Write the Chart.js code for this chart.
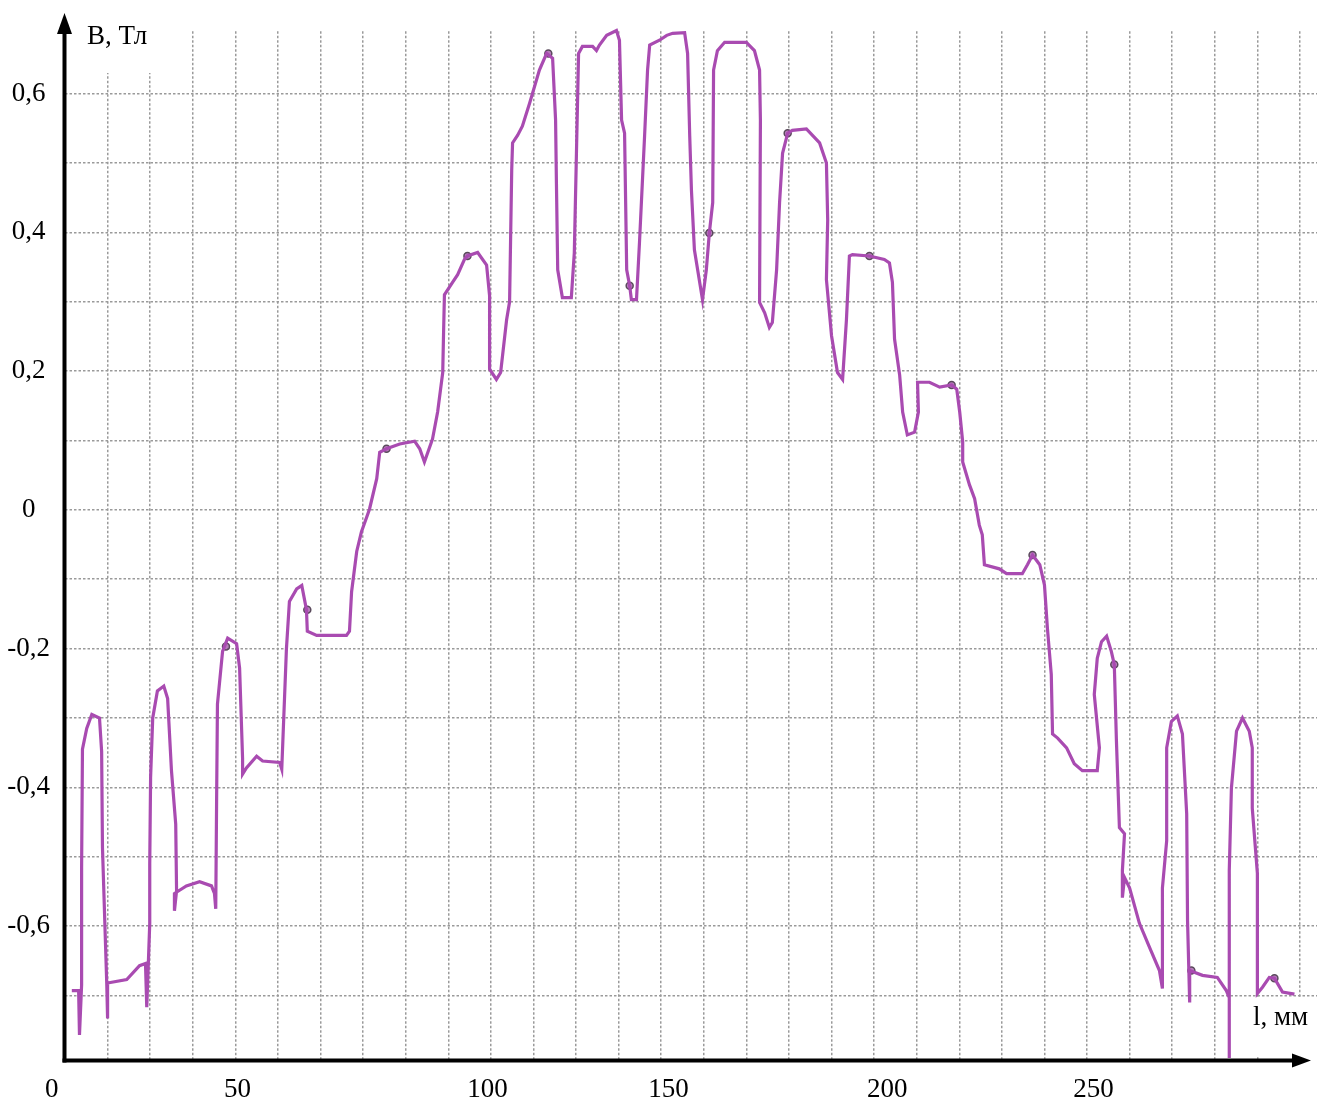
<!DOCTYPE html>
<html>
<head>
<meta charset="utf-8">
<script src="https://cdn.jsdelivr.net/npm/chart.js@4.4.1/dist/chart.umd.min.js"></script>
<style>
    html, body { margin: 0; padding: 0; background: #fff; }
</style>
</head>
<body>
<canvas id="myChart" width="1317" height="1106"></canvas>
<script>
// l, mm
const lengthMm = [
    1.6, 3.2, 3.4, 3.9, 3.9, 4.1, 5.1, 6.3, 8.1, 8.6, 8.8, 9.8, 10.0, 10.0,
    14.5, 17.5, 18.9, 19.2, 19.9, 19.9, 20.1, 20.6, 21.7, 23.2, 24.1, 25.0, 26.0, 26.2,
    25.7, 25.7, 28.5, 31.6, 34.4, 35.1, 35.4, 35.6, 35.8, 37.0, 38.2, 40.3, 41.0, 41.7,
    41.7, 42.6, 45.0, 46.4, 50.4, 50.9, 52.0, 52.7, 54.4, 55.6, 56.7, 56.9, 59.1, 66.1,
    66.8, 67.3, 68.5, 69.6, 71.5, 73.2, 73.9, 75.5, 78.6, 82.1, 83.3, 84.4, 86.3, 87.5,
    88.7, 88.9, 89.1, 91.0, 92.2, 93.8, 94.5, 96.9, 99.0, 99.7, 99.7, 101.3, 102.3, 103.7,
    104.4, 104.9, 105.1, 106.3, 107.4, 109.1, 111.4, 113.1, 114.5, 115.2, 115.4, 115.7, 116.8, 118.9,
    119.6, 120.1, 120.6, 121.5, 123.9, 124.8, 125.5, 127.2, 129.5, 130.2, 130.7, 131.4, 131.9, 132.6,
    133.0, 134.2, 134.9, 136.1, 136.8, 137.3, 139.6, 141.3, 142.7, 145.5, 146.2, 146.7, 147.1, 147.8,
    149.7, 150.6, 151.3, 152.1, 152.3, 153.2, 154.9, 160.0, 161.9, 163.1, 163.3, 163.1, 164.3, 165.4,
    166.1, 167.1, 167.8, 168.5, 169.7, 170.8, 174.1, 177.2, 178.8, 179.1, 178.8, 180.0, 181.4, 182.6,
    183.5, 184.2, 184.9, 188.9, 192.4, 193.6, 194.3, 194.8, 196.0, 196.7, 197.8, 199.5, 200.4, 200.2,
    203.0, 205.4, 208.2, 209.4, 210.1, 210.8, 210.8, 212.4, 213.6, 214.7, 215.4, 215.9, 219.4, 221.1,
    224.8, 226.0, 227.2, 228.9, 230.0, 230.7, 231.6, 231.9, 233.1, 235.2, 237.0, 238.9, 242.4, 242.9,
    241.7, 242.4, 243.4, 244.6, 245.7, 246.4, 246.9, 247.6, 248.8, 248.3, 248.3, 248.8, 250.0, 252.3,
    254.7, 257.0, 257.7, 257.7, 258.7, 258.7, 259.8, 261.2, 262.4, 263.4, 263.6, 264.1, 264.1, 267.1,
    270.6, 272.7, 273.4, 273.4, 273.4, 273.9, 275.1, 276.5, 278.1, 278.8, 278.8, 280.0, 280.0, 281.2,
    282.8, 284.0, 285.9, 288.7
];
// B, T
const inductionT = [
    -0.693, -0.693, -0.757, -0.685, -0.516, -0.345, -0.315, -0.295, -0.300, -0.348, -0.487, -0.682, -0.733, -0.682,
    -0.677, -0.657, -0.654, -0.717, -0.596, -0.510, -0.386, -0.300, -0.261, -0.254, -0.272, -0.376, -0.453, -0.549,
    -0.578, -0.553, -0.542, -0.536, -0.542, -0.553, -0.575, -0.420, -0.280, -0.204, -0.185, -0.193, -0.228, -0.358,
    -0.381, -0.372, -0.355, -0.362, -0.364, -0.374, -0.200, -0.132, -0.114, -0.109, -0.144, -0.175, -0.181, -0.181,
    -0.175, -0.118, -0.060, -0.032, 0.001, 0.045, 0.083, 0.088, 0.095, 0.099, 0.088, 0.069, 0.102, 0.141,
    0.198, 0.256, 0.310, 0.328, 0.339, 0.361, 0.366, 0.371, 0.353, 0.309, 0.203, 0.188, 0.198, 0.274,
    0.300, 0.490, 0.529, 0.540, 0.553, 0.586, 0.634, 0.658, 0.651, 0.562, 0.471, 0.346, 0.306, 0.306,
    0.371, 0.514, 0.658, 0.668, 0.668, 0.662, 0.670, 0.684, 0.691, 0.677, 0.562, 0.543, 0.346, 0.323,
    0.303, 0.303, 0.385, 0.539, 0.634, 0.670, 0.677, 0.684, 0.687, 0.688, 0.658, 0.539, 0.461, 0.375,
    0.303, 0.346, 0.399, 0.443, 0.634, 0.662, 0.674, 0.674, 0.662, 0.634, 0.562, 0.299, 0.284, 0.263,
    0.270, 0.346, 0.443, 0.514, 0.543, 0.547, 0.549, 0.529, 0.500, 0.418, 0.332, 0.251, 0.198, 0.188,
    0.274, 0.366, 0.368, 0.366, 0.361, 0.356, 0.328, 0.246, 0.194, 0.141, 0.108, 0.112, 0.141, 0.184,
    0.184, 0.177, 0.180, 0.174, 0.141, 0.098, 0.069, 0.036, 0.016, -0.022, -0.036, -0.079, -0.085, -0.092,
    -0.092, -0.079, -0.065, -0.079, -0.108, -0.171, -0.237, -0.323, -0.329, -0.343, -0.366, -0.376, -0.376, -0.343,
    -0.266, -0.214, -0.190, -0.182, -0.204, -0.223, -0.333, -0.458, -0.467, -0.520, -0.559, -0.530, -0.545, -0.596,
    -0.631, -0.664, -0.690, -0.545, -0.477, -0.343, -0.305, -0.297, -0.323, -0.438, -0.592, -0.710, -0.664, -0.671,
    -0.674, -0.693, -0.703, -0.790, -0.520, -0.401, -0.319, -0.300, -0.319, -0.343, -0.430, -0.524, -0.697, -0.688,
    -0.674, -0.675, -0.695, -0.698
];
// small round markers on the curve
const markerMm = [37.8, 56.9, 75.5, 94.5, 113.5, 132.6, 151.3, 169.7, 188.9, 208.2, 227.2, 246.4, 264.5, 284.0];
const markerT = [-0.197, -0.144, 0.088, 0.366, 0.658, 0.323, 0.399, 0.543, 0.366, 0.180, -0.065, -0.223, -0.664, -0.675];

// tick labels of the x axis and where they stand (mm)
const xLabelText = ['0', '50', '100', '150', '200', '250'];
const xLabelPos = [-3.1, 40.5, 99.2, 141.7, 193.1, 241.5];
// labelled y values
const yLabelValues = [0.6, 0.4, 0.2, 0, -0.2, -0.4, -0.6];

const serif = "'Liberation Serif', 'Times New Roman', serif";
const grid_color = '#9a9a9a';

// black axes with arrow heads and the axis names
const axesArrows = {
    id: 'axesArrows',
    beforeDatasetsDraw(chart) {
        // white boxes under the axis names hide the grid there
        const ctx = chart.ctx;
        ctx.save();
        ctx.fillStyle = '#fff';
        ctx.fillRect(72, 0, 100, 73);
        ctx.fillRect(1245, 998, 72, 58);
        ctx.restore();
    },
    afterDraw(chart) {
        const {ctx, chartArea} = chart;
        const x0 = chartArea.left - 0.5;
        const y0 = chartArea.bottom + 0.5;
        ctx.save();
        ctx.strokeStyle = '#000';
        ctx.fillStyle = '#000';
        ctx.lineWidth = 4;
        ctx.beginPath();
        ctx.moveTo(x0, y0 + 2);
        ctx.lineTo(x0, 30);
        ctx.stroke();
        ctx.beginPath();
        ctx.moveTo(x0 - 2, y0);
        ctx.lineTo(1296, y0);
        ctx.stroke();
        // arrow heads
        ctx.beginPath();
        ctx.moveTo(x0, 13);
        ctx.lineTo(x0 - 7.5, 34);
        ctx.lineTo(x0 + 7.5, 34);
        ctx.closePath();
        ctx.fill();
        ctx.beginPath();
        ctx.moveTo(1311, y0);
        ctx.lineTo(1292, y0 - 7);
        ctx.lineTo(1292, y0 + 7);
        ctx.closePath();
        ctx.fill();

        ctx.font = '27px ' + serif;
        ctx.textAlign = 'left';
        ctx.textBaseline = 'alphabetic';
        ctx.fillText('В, Тл', 87, 44);
        ctx.fillText('l, мм', 1253, 1025);
        ctx.restore();
    }
};

function draw_chart() {
    const ctx = document.getElementById('myChart');
    new Chart(ctx, {
        type: 'line',
        data: {
            datasets: [{
                label: 'B',
                data: lengthMm.map((x, i) => ({x: x, y: inductionT[i]})),
                borderColor: '#a94bb1',
                borderWidth: 3.2,
                pointRadius: 0,
                tension: 0,
                clip: false,
                xAxisID: 'x',
                yAxisID: 'y'
            }, {
                label: 'markers',
                data: markerMm.map((x, i) => ({x: x, y: markerT[i]})),
                showLine: false,
                pointRadius: 3.5,
                pointBorderWidth: 1.5,
                pointBorderColor: '#5a4a5c',
                pointBackgroundColor: 'rgba(150,70,155,0.7)',
                xAxisID: 'x',
                yAxisID: 'y'
            }]
        },
        options: {
            responsive: false,
            animation: false,
            layout: {
                autoPadding: false,
                padding: {top: 27, left: 0, right: 0, bottom: 0}
            },
            plugins: {
                legend: {display: false},
                tooltip: {enabled: false}
            },
            scales: {
                x: {
                    type: 'linear',
                    position: 'bottom',
                    min: 0,
                    max: 294,
                    ticks: {
                        display: false,
                        stepSize: 10,
                        includeBounds: false
                    },
                    grid: {
                        color: grid_color,
                        lineWidth: 1.5,
                        drawTicks: false
                    },
                    border: {
                        display: false,
                        dash: [2.5, 2]
                    },
                    afterFit: function(scale) {
                        scale.height = 0;
                    }
                },
                xl: {
                    type: 'linear',
                    position: 'bottom',
                    min: 0,
                    max: 294,
                    grid: {display: false, drawTicks: false},
                    border: {display: false},
                    afterBuildTicks: function(scale) {
                        scale.ticks = xLabelPos.map(v => ({value: v}));
                    },
                    ticks: {
                        autoSkip: false,
                        maxRotation: 0,
                        padding: 14,
                        color: '#000',
                        font: {family: serif, size: 27},
                        callback: function(value, index) {
                            return xLabelText[index];
                        }
                    },
                    afterFit: function(scale) {
                        scale.height = 46;
                    }
                },
                y: {
                    type: 'linear',
                    min: -0.793,
                    max: 0.69,
                    ticks: {
                        stepSize: 0.1,
                        includeBounds: false,
                        crossAlign: 'center',
                        padding: 15,
                        color: '#000',
                        font: {family: serif, size: 27},
                        callback: function(value) {
                            const v = Math.round(value * 10) / 10;
                            if (!yLabelValues.includes(v)) return '';
                            return v === 0 ? '0' : String(v).replace('.', ',');
                        }
                    },
                    grid: {
                        color: grid_color,
                        lineWidth: 1.5,
                        drawTicks: false
                    },
                    border: {
                        display: false,
                        dash: [2.5, 2]
                    },
                    afterFit: function(scale) {
                        scale.width = 65;
                    }
                }
            }
        },
        plugins: [axesArrows]
    });
}

draw_chart();
</script>
</body>
</html>
